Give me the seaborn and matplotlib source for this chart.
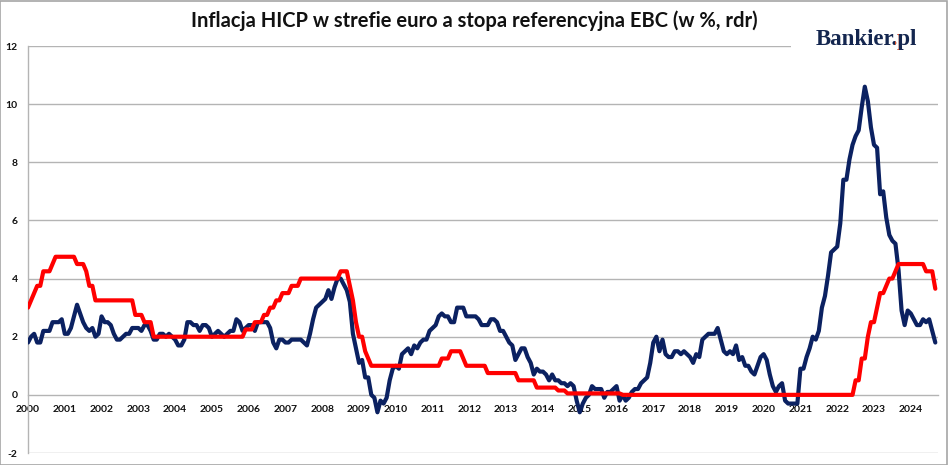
import numpy as np
import pandas as pd
import matplotlib
matplotlib.use("Agg")
import matplotlib.pyplot as plt
from matplotlib.patches import Rectangle
from matplotlib.transforms import Bbox
import seaborn as sns

# ---- data (monthly, Jan 2000 - Sep 2024) ----
hicp = [
    1.8, 2.0, 2.1, 1.8, 1.8, 2.2, 2.2, 2.2, 2.5, 2.5, 2.5, 2.6,   # 2000
    2.1, 2.1, 2.3, 2.7, 3.1, 2.8, 2.5, 2.3, 2.2, 2.3, 2.0, 2.1,   # 2001
    2.7, 2.5, 2.5, 2.4, 2.1, 1.9, 1.9, 2.0, 2.1, 2.1, 2.3, 2.3,   # 2002
    2.3, 2.2, 2.4, 2.4, 2.2, 1.9, 1.9, 2.1, 2.1, 2.0, 2.1, 2.0,   # 2003
    1.9, 1.7, 1.7, 1.9, 2.5, 2.5, 2.4, 2.4, 2.2, 2.4, 2.4, 2.3,   # 2004
    2.0, 2.1, 2.2, 2.1, 2.0, 2.1, 2.2, 2.2, 2.6, 2.5, 2.2, 2.3,   # 2005
    2.4, 2.4, 2.2, 2.5, 2.5, 2.5, 2.5, 2.3, 1.8, 1.6, 1.9, 1.9,   # 2006
    1.8, 1.8, 1.9, 1.9, 1.9, 1.9, 1.8, 1.7, 2.1, 2.6, 3.0, 3.1,   # 2007
    3.2, 3.3, 3.6, 3.3, 3.7, 4.0, 4.0, 3.8, 3.6, 3.2, 2.1, 1.6,   # 2008
    1.1, 1.2, 0.6, 0.6, 0.0, -0.1, -0.6, -0.2, -0.3, -0.1, 0.5, 0.9,  # 2009
    1.0, 0.9, 1.4, 1.5, 1.6, 1.4, 1.7, 1.6, 1.8, 1.9, 1.9, 2.2,   # 2010
    2.3, 2.4, 2.7, 2.8, 2.7, 2.7, 2.5, 2.5, 3.0, 3.0, 3.0, 2.7,   # 2011
    2.7, 2.7, 2.7, 2.6, 2.4, 2.4, 2.4, 2.6, 2.6, 2.5, 2.2, 2.2,   # 2012
    2.0, 1.8, 1.7, 1.2, 1.4, 1.6, 1.6, 1.3, 1.1, 0.7, 0.9, 0.8,   # 2013
    0.8, 0.7, 0.5, 0.7, 0.5, 0.5, 0.4, 0.4, 0.3, 0.4, 0.3, -0.2,  # 2014
    -0.6, -0.3, -0.1, 0.0, 0.3, 0.2, 0.2, 0.2, -0.1, 0.1, 0.1, 0.2,  # 2015
    0.3, -0.2, 0.0, -0.2, -0.1, 0.1, 0.2, 0.2, 0.4, 0.5, 0.6, 1.1,  # 2016
    1.8, 2.0, 1.5, 1.9, 1.4, 1.3, 1.3, 1.5, 1.5, 1.4, 1.5, 1.4,   # 2017
    1.3, 1.1, 1.4, 1.3, 1.9, 2.0, 2.1, 2.1, 2.1, 2.3, 1.9, 1.5,   # 2018
    1.4, 1.5, 1.4, 1.7, 1.2, 1.3, 1.0, 1.0, 0.8, 0.7, 1.0, 1.3,   # 2019
    1.4, 1.2, 0.7, 0.3, 0.1, 0.3, 0.4, -0.2, -0.3, -0.3, -0.3, -0.3,  # 2020
    0.9, 0.9, 1.3, 1.6, 2.0, 1.9, 2.2, 3.0, 3.4, 4.1, 4.9, 5.0,   # 2021
    5.1, 5.9, 7.4, 7.4, 8.1, 8.6, 8.9, 9.1, 9.9, 10.6, 10.1, 9.2,  # 2022
    8.6, 8.5, 6.9, 7.0, 6.1, 5.5, 5.3, 5.2, 4.3, 2.9, 2.4, 2.9,   # 2023
    2.8, 2.6, 2.4, 2.4, 2.6, 2.5, 2.6, 2.2, 1.8,                  # 2024
]

ecb_rate = [
    3.0, 3.25, 3.5, 3.75, 3.75, 4.25, 4.25, 4.25, 4.5, 4.75, 4.75, 4.75,   # 2000
    4.75, 4.75, 4.75, 4.75, 4.5, 4.5, 4.5, 4.25, 3.75, 3.75, 3.25, 3.25,   # 2001
    3.25, 3.25, 3.25, 3.25, 3.25, 3.25, 3.25, 3.25, 3.25, 3.25, 3.25, 2.75,  # 2002
    2.75, 2.75, 2.5, 2.5, 2.5, 2.0, 2.0, 2.0, 2.0, 2.0, 2.0, 2.0,   # 2003
    2.0, 2.0, 2.0, 2.0, 2.0, 2.0, 2.0, 2.0, 2.0, 2.0, 2.0, 2.0,     # 2004
    2.0, 2.0, 2.0, 2.0, 2.0, 2.0, 2.0, 2.0, 2.0, 2.0, 2.0, 2.25,    # 2005
    2.25, 2.25, 2.5, 2.5, 2.5, 2.75, 2.75, 3.0, 3.0, 3.25, 3.25, 3.5,  # 2006
    3.5, 3.5, 3.75, 3.75, 3.75, 4.0, 4.0, 4.0, 4.0, 4.0, 4.0, 4.0,  # 2007
    4.0, 4.0, 4.0, 4.0, 4.0, 4.0, 4.25, 4.25, 4.25, 3.75, 3.25, 2.5,  # 2008
    2.0, 2.0, 1.5, 1.25, 1.0, 1.0, 1.0, 1.0, 1.0, 1.0, 1.0, 1.0,   # 2009
    1.0, 1.0, 1.0, 1.0, 1.0, 1.0, 1.0, 1.0, 1.0, 1.0, 1.0, 1.0,    # 2010
    1.0, 1.0, 1.0, 1.25, 1.25, 1.25, 1.5, 1.5, 1.5, 1.5, 1.25, 1.0,  # 2011
    1.0, 1.0, 1.0, 1.0, 1.0, 1.0, 0.75, 0.75, 0.75, 0.75, 0.75, 0.75,  # 2012
    0.75, 0.75, 0.75, 0.75, 0.5, 0.5, 0.5, 0.5, 0.5, 0.5, 0.25, 0.25,  # 2013
    0.25, 0.25, 0.25, 0.25, 0.25, 0.15, 0.15, 0.15, 0.05, 0.05, 0.05, 0.05,  # 2014
    0.05, 0.05, 0.05, 0.05, 0.05, 0.05, 0.05, 0.05, 0.05, 0.05, 0.05, 0.05,  # 2015
    0.05, 0.05, 0.0, 0.0, 0.0, 0.0, 0.0, 0.0, 0.0, 0.0, 0.0, 0.0,   # 2016
    0.0, 0.0, 0.0, 0.0, 0.0, 0.0, 0.0, 0.0, 0.0, 0.0, 0.0, 0.0,     # 2017
    0.0, 0.0, 0.0, 0.0, 0.0, 0.0, 0.0, 0.0, 0.0, 0.0, 0.0, 0.0,     # 2018
    0.0, 0.0, 0.0, 0.0, 0.0, 0.0, 0.0, 0.0, 0.0, 0.0, 0.0, 0.0,     # 2019
    0.0, 0.0, 0.0, 0.0, 0.0, 0.0, 0.0, 0.0, 0.0, 0.0, 0.0, 0.0,     # 2020
    0.0, 0.0, 0.0, 0.0, 0.0, 0.0, 0.0, 0.0, 0.0, 0.0, 0.0, 0.0,     # 2021
    0.0, 0.0, 0.0, 0.0, 0.0, 0.0, 0.5, 0.5, 1.25, 1.25, 2.0, 2.5,   # 2022
    2.5, 3.0, 3.5, 3.5, 3.75, 4.0, 4.0, 4.25, 4.5, 4.5, 4.5, 4.5,   # 2023
    4.5, 4.5, 4.5, 4.5, 4.5, 4.25, 4.25, 4.25, 3.65,                # 2024
]

year_labels = [str(y) for y in range(2000, 2025)]
y_ticks = [-2, 0, 2, 4, 6, 8, 10, 12]

title = "Inflacja HICP w strefie euro a stopa referencyjna EBC (w %, rdr)"
logo = "Bankier.pl"

# ---- frame ----
t = 2000 + np.arange(len(hicp)) / 12.0
df = pd.DataFrame({"t": t, "hicp": hicp, "rate": ecb_rate})

sns.set_style("white")
plt.rcParams["font.family"] = ["Lato", "DejaVu Sans"]

W, H = 948, 465
fig = plt.figure(figsize=(W / 100, H / 100), dpi=100)
ax = fig.add_axes([28 / W, 1 - 453 / H, (938 - 28) / W, (453 - 46) / H])

navy = "#0b2161"
red = "#ff0000"
grid_c = "#b4b4b4"

sns.lineplot(data=df, x="t", y="hicp", ax=ax, color=navy, linewidth=3.0, zorder=3)
sns.lineplot(data=df, x="t", y="rate", ax=ax, color=red, linewidth=3.0, zorder=4)

ax.set_xlim(2000, 2024.74)
ax.set_ylim(-2, 12)
ax.set_yticks(y_ticks)
ax.set_yticklabels([str(v) for v in y_ticks])
ax.set_xticks([int(s) for s in year_labels])
ax.set_xticklabels(year_labels)
ax.set_xlabel("")
ax.set_ylabel("")

for v in y_ticks:
    if v != 0:
        ax.axhline(v, color=grid_c, linewidth=1.0, zorder=1)

for s in ["top", "right"]:
    ax.spines[s].set_visible(False)
ax.spines["bottom"].set_position(("data", 0))
ax.spines["bottom"].set_color(grid_c)
ax.spines["bottom"].set_linewidth(1.0)
ax.spines["bottom"].set_zorder(2)
ax.spines["left"].set_color(grid_c)
ax.spines["left"].set_linewidth(1.0)

ax.tick_params(axis="both", which="major", direction="out", length=3.5,
               width=1.0, color=grid_c, labelsize=7.5, labelcolor="#111111")
ax.tick_params(axis="x", pad=4)
ax.tick_params(axis="y", pad=4)
for lab in ax.get_xticklabels() + ax.get_yticklabels():
    lab.set_fontweight("bold")

# title
fig.text(474 / W, 1 - 21 / H, title, ha="center", va="center",
         fontsize=14.5, fontweight="bold", color="#111111")

# white patch behind logo covering top gridline
fig.patches.append(Rectangle((791 / W, 1 - 58 / H), (941 - 791) / W, 32 / H,
                             transform=fig.transFigure, facecolor="white",
                             edgecolor="none", zorder=5))

# logo "Bankier.pl" (navy text, dot recoloured orange via clipping)
fig.canvas.draw()
renderer = fig.canvas.get_renderer()
logo_kw = dict(fontsize=16.5, fontweight="bold",
               family=["Liberation Serif", "DejaVu Serif"],
               va="baseline", ha="left")
lx, ly = 816 / W, 1 - 45 / H
probe_a = fig.text(lx, ly, logo[:7], **logo_kw)
probe_b = fig.text(lx, ly, logo[:8], **logo_kw)
bba = probe_a.get_window_extent(renderer)
bbb = probe_b.get_window_extent(renderer)
probe_a.remove()
probe_b.remove()
fig.text(lx, ly, logo, color="#14264f", zorder=6, **logo_kw)
dot = fig.text(lx, ly, logo, color="#e8552b", zorder=7, **logo_kw)
dot.set_clip_box(Bbox([[bba.x1 + 0.5, bba.y0 - 10], [bbb.x1 + 0.5, bba.y1 + 10]]))
dot.set_clip_on(True)

# figure border
fig.patches.append(Rectangle((0.0005, 0.001), 0.998, 0.997, transform=fig.transFigure,
                             facecolor="none", edgecolor="#a6a6a6", linewidth=1.2, zorder=10))

fig.savefig("out.png", dpi=100)
